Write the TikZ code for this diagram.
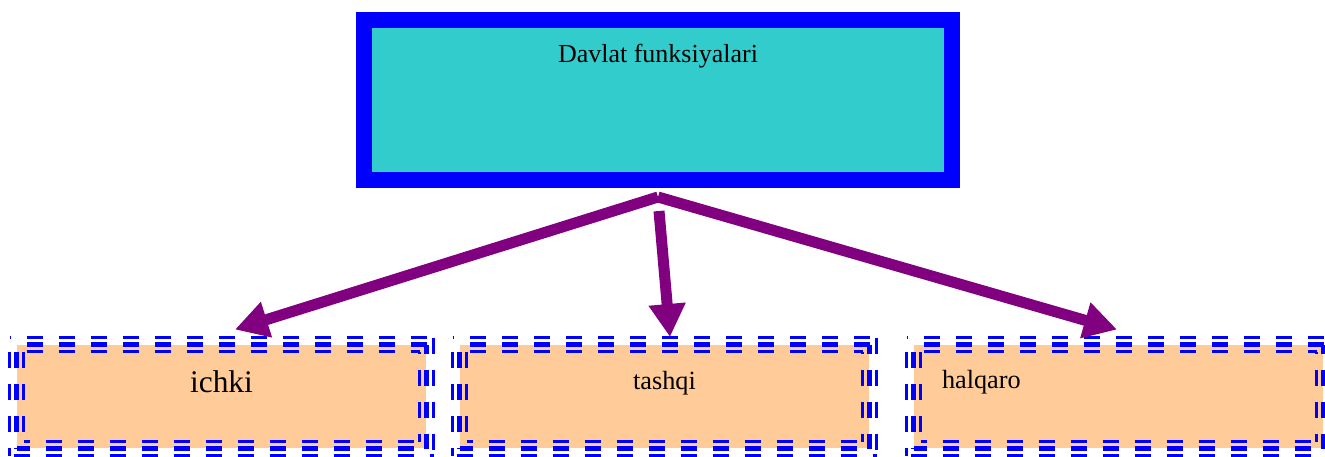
\documentclass[tikz,border=0pt]{standalone}
\usepackage{fontspec}
\setmainfont{Liberation Serif}
\usetikzlibrary{arrows.meta}

\definecolor{tiniq}{RGB}{51,204,204}
\definecolor{shaftoli}{RGB}{255,204,153}
\definecolor{binafsha}{RGB}{128,0,128}

\tikzset{every picture/.style={line width=0.75pt}}
\tikzset{
  bosh/.style={draw=blue, line width=12pt, fill=tiniq, minimum width=441pt, inner xsep=0pt, inner ysep=0pt, text height=31.5pt, text depth=88.5pt, font=\fontsize{19.5}{23}\selectfont},
  quti/.style={fill=shaftoli, minimum width=306.75pt, inner ysep=0pt},
  chegara/.style={draw=blue, dash pattern=on 12pt off 12pt},
  strelka/.style={draw=binafsha, line width=8.25pt, -{Triangle[length=24.75pt,width=26.25pt]}},
}

\begin{document}
\begin{tikzpicture}[x=0.75pt,y=0.75pt,yscale=-1,xscale=1]
\useasboundingbox (0,0) rectangle (1325,457);

% Top node
\node [bosh] (davlat) at (658,100) {Davlat funksiyalari};

% Lower nodes
\node [quti, text height=35.8pt, text depth=41.45pt, font=\fontsize{23.6}{28}\selectfont] (ichki) at (221.5,396.5) {ichki};
\node [quti, text height=33pt, text depth=44.25pt, font=\fontsize{19.7}{23}\selectfont] (tashqi) at (664.5,396.5) {tashqi};
\node [quti, text height=32.25pt, text depth=45pt, inner xsep=21pt, text width=264.75pt, align=left, font=\fontsize{19.7}{23}\selectfont] (halqaro) at (1118.5,396.5) {halqaro};

% Triple dashed borders
\foreach \q in {ichki,tashqi,halqaro}{
  \foreach \o/\w in {-7/2.1,0/4.2,7/2.1}{
    \pgfmathsetmacro\pt{(22+\o)*0.75}
    \pgfmathsetmacro\pr{(7+\o)*0.75}
    \pgfmathsetmacro\pb{(35+\o)*0.75}
    \pgfmathsetmacro\pl{(25+\o)*0.75}
    \draw [chegara, line width=\w pt, dash phase=\pt pt] ([shift={(\o,\o)}]\q.north west) -- ([shift={(-\o,\o)}]\q.north east);
    \draw [chegara, line width=\w pt, dash phase=\pr pt] ([shift={(-\o,\o)}]\q.north east) -- ([shift={(-\o,-\o)}]\q.south east);
    \draw [chegara, line width=\w pt, dash phase=\pb pt] ([shift={(\o,-\o)}]\q.south west) -- ([shift={(-\o,-\o)}]\q.south east);
    \draw [chegara, line width=\w pt, dash phase=\pl pt] ([shift={(\o,\o)}]\q.north west) -- ([shift={(\o,-\o)}]\q.south west);
  }
}

% Arrows
\draw [strelka] ([shift={(0,9)}]davlat.south) -- ([shift={(13.5,-15)}]ichki.north);
\draw [strelka] ([shift={(1,23)}]davlat.south) -- ([shift={(5.5,-7.5)}]tashqi.north);
\draw [strelka] ([shift={(0,9)}]davlat.south) -- ([shift={(-1.5,-15)}]halqaro.north);

\end{tikzpicture}
\end{document}
